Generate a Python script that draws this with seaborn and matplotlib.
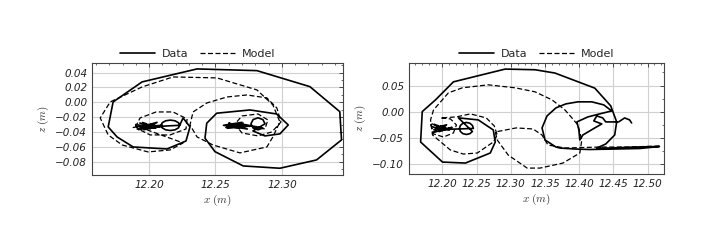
import numpy as np
import pandas as pd
import matplotlib
matplotlib.use("Agg")
import matplotlib.pyplot as plt
import seaborn as sns
from matplotlib.ticker import AutoMinorLocator

# ---- panel 1 (left) ----
data1_x = [12.190, 12.205, 12.193, 12.208, 12.191, 12.203, 12.196, 12.210, 12.194, 12.206, 12.199, 12.212,
           12.223, 12.2221, 12.2195, 12.216, 12.2125, 12.2099, 12.209, 12.2099, 12.2125, 12.216, 12.2195, 12.2221,
           12.2256, 12.2308, 12.2278, 12.2135, 12.188, 12.1759, 12.1692, 12.1729, 12.1947,
           12.2361, 12.2812, 12.3211, 12.3436, 12.3449, 12.3261, 12.2985, 12.2709, 12.2496,
           12.2421, 12.2434, 12.2509, 12.276, 12.296, 12.3048, 12.2985, 12.2872, 12.2782,
           12.2873, 12.2857, 12.282, 12.2783, 12.2767, 12.2783, 12.282, 12.2857,
           12.272, 12.258, 12.270, 12.256, 12.274, 12.260, 12.268, 12.262, 12.276, 12.259, 12.266]
data1_z = [-0.030, -0.035, -0.028, -0.033, -0.036, -0.029, -0.037, -0.031, -0.033, -0.027, -0.035, -0.032,
           -0.031, -0.0275, -0.0249, -0.024, -0.0249, -0.0275, -0.031, -0.0345, -0.0371, -0.038, -0.0371, -0.0345,
           -0.0211, -0.0332, -0.0521, -0.0629, -0.0602, -0.0467, -0.0332, 0.0005, 0.0275,
           0.045, 0.0427, 0.0211, -0.0126, -0.0507, -0.0777, -0.0889, -0.0858, -0.0665,
           -0.0484, -0.0282, -0.0147, -0.0103, -0.0157, -0.0305, -0.0426, -0.0453, -0.0386,
           -0.029, -0.0233, -0.0209, -0.0233, -0.029, -0.0347, -0.0371, -0.0347,
           -0.030, -0.034, -0.027, -0.031, -0.036, -0.028, -0.034, -0.030, -0.032, -0.035, -0.031]
model1_x = [12.197, 12.188, 12.202, 12.192, 12.206, 12.195, 12.201, 12.190,
            12.1917, 12.2008, 12.2158, 12.2278, 12.2286, 12.218, 12.2053, 12.1932, 12.1902,
            12.2256, 12.2158, 12.1992, 12.1797, 12.1692, 12.1632, 12.1707, 12.1947, 12.218,
            12.2511, 12.2812, 12.2932, 12.2985, 12.2932, 12.2887, 12.2684, 12.2481, 12.2361,
            12.2308, 12.2331, 12.2436, 12.2587, 12.2737, 12.2887, 12.2962, 12.2993,
            12.2925, 12.282, 12.2699, 12.2647, 12.2699, 12.282, 12.2895, 12.2872,
            12.266, 12.258, 12.271, 12.261, 12.269, 12.263, 12.267]
model1_z = [-0.031, -0.034, -0.029, -0.037, -0.033, -0.027, -0.036, -0.031,
            -0.0359, -0.044, -0.044, -0.0359, -0.0224, -0.013, -0.013, -0.0211, -0.0318,
            -0.0548, -0.0642, -0.0669, -0.0575, -0.044, -0.0211, 0.0005, 0.0207, 0.0342,
            0.0329, 0.0167, -0.0035, -0.0265, -0.0467, -0.0602, -0.0682, -0.0575, -0.0467,
            -0.0305, -0.013, -0.0008, 0.0072, 0.0099, 0.0059, -0.0076, -0.0265,
            -0.0399, -0.0453, -0.0413, -0.0292, -0.0184, -0.0157, -0.0238, -0.0359,
            -0.030, -0.034, -0.028, -0.033, -0.036, -0.029, -0.032]

# ---- panel 2 (right) ----
data2_x = [12.184, 12.200, 12.188, 12.204, 12.186, 12.198, 12.210, 12.190, 12.206, 12.195, 12.214, 12.200,
           12.2452, 12.2438, 12.2401, 12.235, 12.2299, 12.2262, 12.2248, 12.2262, 12.2299, 12.235, 12.2401, 12.2438,
           12.2233, 12.2524, 12.2743, 12.2772, 12.2699, 12.2335, 12.200, 12.168, 12.1704, 12.1898,
           12.216, 12.2917, 12.3354, 12.3645, 12.4228, 12.4461, 12.4548, 12.4519, 12.4388, 12.4257,
           12.4446, 12.481, 12.5174, 12.4883, 12.4519, 12.4155, 12.3936, 12.3718,
           12.366, 12.35, 12.3456, 12.3529, 12.366, 12.3805, 12.398, 12.4184, 12.4359, 12.4475,
           12.43, 12.4126, 12.3966, 12.3995, 12.4009, 12.4053, 12.4228, 12.433, 12.4213, 12.4257,
           12.4344, 12.4388, 12.4475, 12.4577, 12.4664, 12.4737, 12.4766]
data2_z = [-0.028, -0.036, -0.024, -0.033, -0.040, -0.027, -0.035, -0.031, -0.025, -0.038, -0.030, -0.034,
           -0.032, -0.0263, -0.022, -0.0205, -0.022, -0.0263, -0.032, -0.0378, -0.042, -0.0435, -0.042, -0.0378,
           -0.0118, -0.0157, -0.0349, -0.0579, -0.0789, -0.0981, -0.0962, -0.0579, 0.0002, 0.0226,
           0.057, 0.0814, 0.0801, 0.0738, 0.045, 0.0111, -0.0195, -0.0445, -0.0617, -0.0694,
           -0.0694, -0.0675, -0.0665, -0.0703, -0.0713, -0.0722, -0.0713, -0.0694,
           -0.0675, -0.054, -0.031, -0.0081, 0.0073, 0.0149, 0.0188, 0.0188, 0.013, 0.0015,
           -0.0042, -0.01, -0.0195, -0.0349, -0.054, -0.0445, -0.031, -0.0234, -0.0176, -0.0081,
           -0.0119, -0.0195, -0.0195, -0.0195, -0.0119, -0.0157, -0.0215]
model2_x = [12.196, 12.186, 12.203, 12.190, 12.208, 12.193, 12.200,
            12.1825, 12.1869, 12.2015, 12.216, 12.2204, 12.2116, 12.1971,
            12.2204, 12.2408, 12.2641, 12.2757, 12.2801, 12.2743, 12.251, 12.2306, 12.2116,
            12.1854, 12.1825, 12.1869, 12.2087, 12.2291, 12.267, 12.3063, 12.3354, 12.3602,
            12.3791, 12.3893, 12.398, 12.4038, 12.4009, 12.3762, 12.3427, 12.3238, 12.2961,
            12.2801, 12.2772, 12.3077, 12.3325, 12.3456, 12.3543, 12.3791, 12.43, 12.4737, 12.5174]
model2_z = [-0.030, -0.035, -0.027, -0.038, -0.032, -0.026, -0.034,
            -0.0215, -0.0425, -0.0483, -0.0406, -0.0253, -0.0138, -0.0119,
            -0.01, -0.0042, -0.0119, -0.0272, -0.0445, -0.0579, -0.0789, -0.0809, -0.0732,
            -0.0445, -0.0157, 0.0034, 0.036, 0.0456, 0.0513, 0.0456, 0.0379, 0.0226,
            0.0034, -0.0119, -0.0253, -0.054, -0.0789, -0.0981, -0.1077, -0.1077, -0.0828,
            -0.054, -0.0387, -0.031, -0.033, -0.0445, -0.0636, -0.0694, -0.0675, -0.0675, -0.0655]

panels = [
    dict(dx=data1_x, dz=data1_z, mx=model1_x, mz=model1_z,
         xlim=(12.157, 12.346), ylim=(-0.098, 0.053), xt=[12.20, 12.25, 12.30],
         yt=[-0.08, -0.06, -0.04, -0.02, 0.00, 0.02, 0.04], pos=[0.1303, 0.2972, 0.3555, 0.4498],
         leg=0.42),
    dict(dx=data2_x, dz=data2_z, mx=model2_x, mz=model2_z,
         xlim=(12.151, 12.524), ylim=(-0.119, 0.093),
         xt=[12.20, 12.25, 12.30, 12.35, 12.40, 12.45, 12.50],
         yt=[-0.10, -0.05, 0.00, 0.05], pos=[0.5793, 0.3012, 0.3612, 0.4458],
         leg=0.5),
]

sns.set_style("white")
plt.rcParams["mathtext.fontset"] = "cm"

fig = plt.figure(figsize=(7.06, 2.49), dpi=100)

for p in panels:
    ax = fig.add_axes(p["pos"])
    sns.lineplot(x=p["dx"], y=p["dz"], sort=False, estimator=None, color="black",
                 linewidth=1.2, label="Data", ax=ax)
    sns.lineplot(x=p["mx"], y=p["mz"], sort=False, estimator=None, color="black",
                 linewidth=0.9, linestyle=(0, (4, 2)), label="Model", ax=ax)
    ax.set_xlim(p["xlim"])
    ax.set_ylim(p["ylim"])
    ax.set_xticks(p["xt"])
    ax.set_yticks(p["yt"])
    ax.set_xticklabels([f"{v:.2f}" for v in p["xt"]], fontstyle="italic")
    ax.set_yticklabels([f"{v:.2f}".replace("-", "\u2212") for v in p["yt"]], fontstyle="italic")
    ax.xaxis.set_minor_locator(AutoMinorLocator(5))
    ax.yaxis.set_minor_locator(AutoMinorLocator(2))
    ax.grid(True, which="major", color="#d0d0d0", linewidth=0.8)
    ax.tick_params(which="both", direction="in", top=True, right=True, labelsize=7.5,
                   colors="#333333", labelcolor="#222222")
    ax.tick_params(which="major", length=3, width=0.6)
    ax.tick_params(which="minor", length=1.5, width=0.5)
    for s in ax.spines.values():
        s.set_color("#444444")
        s.set_linewidth(0.8)
    ax.set_xlabel(r"$x\ (m)$", fontsize=8, color="#333333", labelpad=2)
    ax.set_ylabel(r"$z\ (m)$", fontsize=8, color="#333333", labelpad=3)
    ax.legend(loc="lower center", bbox_to_anchor=(p["leg"], 0.99), ncol=2, frameon=False,
              fontsize=8, handlelength=3.2, columnspacing=1.0, handletextpad=0.6,
              borderaxespad=0.1)

fig.savefig("out.png", dpi=100, facecolor="white")
